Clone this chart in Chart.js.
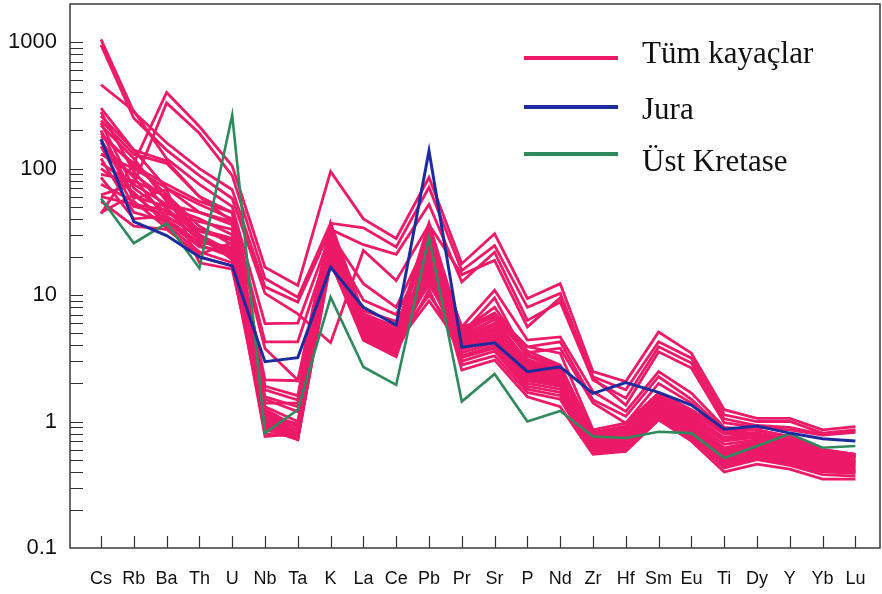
<!DOCTYPE html>
<html>
<head>
<meta charset="utf-8">
<script src="https://cdn.jsdelivr.net/npm/chart.js@4.4.1/dist/chart.umd.min.js"></script>
<style>
  html, body { margin: 0; padding: 0; background: #ffffff; }
  #wrap { width: 882px; height: 594px; position: relative; }
</style>
</head>
<body>
<div id="wrap"><canvas id="spider"></canvas></div>
<script>
// Element order along the x axis
const elements = ['Cs','Rb','Ba','Th','U','Nb','Ta','K','La','Ce','Pb','Pr','Sr','P','Nd','Zr','Hf','Sm','Eu','Ti','Dy','Y','Yb','Lu'];

// Decade labels on the logarithmic y axis
const yDecades = [0.1, 1, 10, 100, 1000];

// Series names
const seriesNames = ['Tüm kayaçlar', 'Jura', 'Üst Kretase'];

// Jura sample (normalised concentrations)
const jura = [171, 38, 29.5, 20, 17, 2.97, 3.2, 16.6, 8.0, 5.8, 138, 3.87, 4.19, 2.48, 2.71, 1.67, 2.03, 1.7, 1.35, 0.87, 0.92, 0.81, 0.73, 0.70];

// Upper Cretaceous sample
const ustKretase = [58, 25.7, 36.9, 16.3, 265, 0.81, 1.24, 9.6, 2.7, 1.95, 28.6, 1.44, 2.38, 1.0, 1.21, 0.76, 0.74, 0.83, 0.81, 0.515, 0.64, 0.80, 0.62, 0.64];

// All rock samples
const kayac01 = [44, 110, 400, 215, 105, 16.6, 11.9, 95, 40, 28, 85, 17.7, 30.5, 9.4, 12.3, 2.48, 2.07, 5.1, 3.47, 1.24, 1.06, 1.06, 0.86, 0.91];
const kayac02 = [62, 75, 330, 190, 88, 13.5, 9.6, 37, 34, 24, 71, 15.6, 24.6, 8.0, 10.3, 2.26, 1.78, 4.27, 3.17, 1.13, 1.0, 1.0, 0.81, 0.86];
const kayac03 = [1050, 280, 160, 100, 68, 11.6, 8.8, 33, 25, 21, 52, 12.7, 21.8, 6.3, 8.8, 2.13, 1.53, 3.9, 2.9, 1.05, 0.93, 0.9, 0.79, 0.84];
const kayac04 = [950, 250, 140, 88, 58, 10.3, 7.1, 4.2, 22.5, 13, 36, 14.5, 18.8, 5.6, 9.5, 2.2, 1.35, 3.56, 2.65, 0.98, 0.9, 0.86, 0.78, 0.82];
const kayac05 = [460, 285, 120, 75, 50, 5.95, 6.0, 30, 12.3, 8.0, 28.6, 5.6, 10.9, 4.4, 4.67, 1.72, 1.2, 2.48, 1.68, 0.9, 0.86, 0.76, 0.6, 0.55];
const kayac06 = [300, 140, 115, 60, 45, 4.27, 4.27, 26, 9.1, 7.0, 22.5, 5.0, 7.1, 3.9, 4.27, 1.48, 1.1, 2.26, 1.5, 0.86, 0.8, 0.72, 0.58, 0.53];
const kayac07 = [130, 100, 70, 45, 38, 3.78, 2.13, 22, 7.5, 6.2, 16.6, 4.6, 6.5, 3.5, 3.8, 1.4, 0.97, 2.0, 1.4, 0.8, 0.76, 0.7, 0.56, 0.52];
const kayac08 = [260, 140, 70, 52, 40, 2.13, 2.1, 37, 7.1, 5.6, 25, 5.6, 6.7, 3.9, 3.47, 0.86, 0.97, 1.68, 1.24, 0.86, 0.86, 0.76, 0.6, 0.55];
const kayac09 = [280, 95, 48, 30, 22, 1.78, 1.48, 32, 6.8, 5.3, 14, 5.3, 7.2, 3.6, 2.8, 0.8, 0.9, 1.6, 1.15, 0.8, 0.82, 0.72, 0.58, 0.54];
const kayac10 = [190, 105, 75, 55, 45, 1.9, 1.6, 35, 6.6, 5.2, 37, 5.2, 8.0, 3.4, 2.7, 0.82, 0.92, 1.6, 1.18, 0.82, 0.8, 0.7, 0.58, 0.55];
const kayac11 = [230, 70, 45, 33, 28, 1.57, 1.31, 30, 6.5, 5.0, 18, 5.0, 6.9, 3.3, 2.6, 0.78, 0.85, 1.55, 1.1, 0.75, 0.78, 0.7, 0.56, 0.52];
const kayac12 = [240, 130, 110, 60, 38, 1.5, 1.2, 27, 6.3, 4.9, 12, 4.9, 9.5, 3.1, 2.55, 0.76, 0.88, 1.52, 1.08, 0.72, 0.76, 0.68, 0.55, 0.52];
const kayac13 = [220, 120, 55, 28, 20, 1.4, 1.4, 28, 6.2, 4.8, 30, 4.8, 6.4, 3.0, 2.5, 0.75, 0.82, 1.5, 1.05, 0.7, 0.75, 0.66, 0.54, 0.5];
const kayac14 = [200, 60, 50, 40, 30, 1.31, 1.0, 27, 6.0, 4.6, 20, 4.6, 6.0, 2.9, 2.4, 0.72, 0.8, 1.45, 1.0, 0.66, 0.72, 0.64, 0.52, 0.49];
const kayac15 = [180, 110, 62, 35, 25, 1.25, 0.9, 26, 5.8, 4.5, 10, 4.4, 5.8, 2.8, 2.35, 0.7, 0.78, 1.42, 0.97, 0.62, 0.7, 0.62, 0.5, 0.48];
const kayac16 = [160, 85, 40, 26, 24, 1.2, 0.85, 36, 5.7, 4.4, 33, 4.3, 5.5, 2.7, 2.3, 0.69, 0.76, 1.4, 0.95, 0.6, 0.68, 0.6, 0.49, 0.47];
const kayac17 = [150, 50, 44, 38, 33, 1.16, 0.8, 24, 5.5, 4.3, 16, 4.2, 5.2, 2.6, 2.2, 0.68, 0.74, 1.36, 0.93, 0.58, 0.66, 0.58, 0.48, 0.46];
const kayac18 = [130, 90, 58, 30, 19, 1.1, 0.78, 23, 5.4, 4.2, 22, 4.0, 5.0, 2.5, 2.1, 0.66, 0.72, 1.33, 0.9, 0.56, 0.64, 0.57, 0.47, 0.45];
const kayac19 = [120, 45, 38, 24, 22, 1.05, 0.76, 22, 5.2, 4.1, 9, 3.9, 4.8, 2.4, 2.05, 0.65, 0.7, 1.3, 0.88, 0.54, 0.62, 0.55, 0.46, 0.44];
const kayac20 = [110, 75, 52, 45, 36, 1.0, 0.75, 33, 5.1, 4.0, 19, 3.8, 4.6, 2.3, 2.0, 0.63, 0.68, 1.27, 0.86, 0.52, 0.6, 0.54, 0.45, 0.43];
const kayac21 = [100, 65, 36, 22, 18, 0.97, 0.74, 20, 5.0, 3.9, 13, 3.7, 4.4, 2.2, 1.95, 0.62, 0.67, 1.25, 0.84, 0.5, 0.58, 0.52, 0.44, 0.42];
const kayac22 = [90, 80, 60, 32, 27, 0.93, 0.73, 29, 4.9, 3.8, 24, 3.5, 4.2, 2.1, 1.9, 0.6, 0.66, 1.2, 0.82, 0.48, 0.56, 0.5, 0.43, 0.41];
const kayac23 = [85, 40, 42, 29, 21, 0.9, 0.72, 19, 4.8, 3.7, 15, 3.3, 4.0, 2.0, 1.8, 0.6, 0.65, 1.18, 0.8, 0.47, 0.55, 0.49, 0.42, 0.4];
const kayac24 = [75, 55, 34, 20, 17, 0.88, 0.72, 25, 4.7, 3.6, 11, 3.2, 3.8, 1.9, 1.7, 0.58, 0.63, 1.15, 0.78, 0.46, 0.54, 0.48, 0.41, 0.4];
const kayac25 = [60, 52, 47, 27, 23, 0.86, 0.74, 18, 4.6, 3.5, 17, 3.0, 3.6, 1.8, 1.6, 0.57, 0.62, 1.12, 0.76, 0.45, 0.52, 0.46, 0.4, 0.39];
const kayac26 = [55, 35, 33, 21, 26, 0.8, 0.76, 21, 4.5, 3.4, 28, 2.8, 3.3, 1.7, 1.5, 0.56, 0.6, 1.08, 0.73, 0.43, 0.5, 0.45, 0.38, 0.37];
const kayac27 = [45, 62, 39, 25, 20, 0.76, 0.8, 18.5, 4.4, 3.25, 21, 2.55, 3.06, 1.57, 1.31, 0.55, 0.58, 1.03, 0.7, 0.4, 0.46, 0.42, 0.35, 0.35];
const kayac28 = [170, 58, 68, 18, 16, 1.16, 0.95, 31, 5.6, 4.3, 13.5, 4.1, 5.4, 2.6, 2.2, 0.68, 0.75, 1.38, 0.94, 0.6, 0.66, 0.58, 0.5, 0.48];

const tumKayaclar = [kayac01, kayac02, kayac03, kayac04, kayac05, kayac06, kayac07, kayac08, kayac09, kayac10,
  kayac11, kayac12, kayac13, kayac14, kayac15, kayac16, kayac17, kayac18, kayac19, kayac20,
  kayac21, kayac22, kayac23, kayac24, kayac25, kayac26, kayac27, kayac28];

const PINK = '#ec1a68';
const BLUE = '#1c2c9e';
const GREEN = '#2e8a5c';

const toPoints = vals => vals.map((v, i) => ({ x: i, y: v }));

const lineStyle = (label, color, width, vals) => ({
  label, data: toPoints(vals), borderColor: color, backgroundColor: color,
  borderWidth: width, pointRadius: 0, tension: 0, fill: false,
  borderJoinStyle: 'miter', borderCapStyle: 'butt'
});

// Highlighted samples first so they are painted above the rock bundle
const datasets = [
  lineStyle(seriesNames[1], BLUE, 3, jura),
  lineStyle(seriesNames[2], GREEN, 2.6, ustKretase),
  ...tumKayaclar.map(vals => lineStyle(seriesNames[0], PINK, 2.8, vals))
];

// Tick marks inside the plot frame plus the frame itself
const frameTicks = {
  id: 'frameTicks',
  beforeDatasetsDraw(chart) {
    const { ctx, chartArea: a, scales: { x, y } } = chart;
    ctx.save();
    ctx.strokeStyle = '#333';
    ctx.lineWidth = 1.2;
    ctx.beginPath();
    y.ticks.forEach(t => {
      if (t.value > 1000.0001 || t.value < 0.10001) return;
      const py = Math.round(y.getPixelForValue(t.value)) + 0.5;
      ctx.moveTo(a.left, py); ctx.lineTo(a.left + 13, py);
    });
    x.ticks.forEach(t => {
      const px = Math.round(x.getPixelForValue(t.value)) + 0.5;
      ctx.moveTo(px, a.bottom); ctx.lineTo(px, a.bottom - 12);
    });
    ctx.stroke();
    ctx.lineWidth = 1.5;
    ctx.strokeStyle = '#3a3a3a';
    ctx.strokeRect(a.left, a.top, a.right - a.left, a.bottom - a.top);
    ctx.restore();
  }
};

// Legend in the upper right of the plot
const legendEntries = [
  { text: seriesNames[0], color: PINK, lineY: 58, textY: 63 },
  { text: seriesNames[1], color: BLUE, lineY: 107, textY: 119 },
  { text: seriesNames[2], color: GREEN, lineY: 154, textY: 171 }
];
const cornerLegend = {
  id: 'cornerLegend',
  afterDraw(chart) {
    const ctx = chart.ctx;
    ctx.save();
    legendEntries.forEach(e => {
      ctx.strokeStyle = e.color;
      ctx.lineWidth = 4;
      ctx.beginPath();
      ctx.moveTo(524, e.lineY); ctx.lineTo(618, e.lineY);
      ctx.stroke();
      ctx.fillStyle = '#111';
      ctx.font = '31px "Liberation Serif", "Times New Roman", serif';
      ctx.textBaseline = 'alphabetic';
      ctx.textAlign = 'left';
      ctx.fillText(e.text, 642, e.textY);
    });
    ctx.restore();
  }
};

const isDecade = v => Math.abs(Math.log10(v) - Math.round(Math.log10(v))) < 1e-9;

new Chart(document.getElementById('spider'), {
  type: 'line',
  data: { datasets },
  options: {
    responsive: true,
    maintainAspectRatio: false,
    animation: false,
    events: [],
    layout: { padding: { left: 0, top: 4, right: 2, bottom: 0 } },
    plugins: { legend: { display: false }, tooltip: { enabled: false } },
    scales: {
      x: {
        type: 'linear',
        min: -0.945,
        max: 23.75,
        grid: { display: false, drawTicks: false },
        border: { display: false },
        afterBuildTicks(scale) { scale.ticks = elements.map((_, i) => ({ value: i })); },
        afterFit(scale) {
          scale.height = 46;
          scale.paddingLeft = 0; scale.paddingRight = 0;
        },
        ticks: {
          autoSkip: false, maxRotation: 0, minRotation: 0, padding: 20,
          color: '#111',
          font: { family: '"Liberation Sans", Arial, sans-serif', size: 18 },
          callback: v => elements[v] ?? ''
        }
      },
      y: {
        type: 'logarithmic',
        min: 0.1,
        max: 2000,
        grid: { display: false, drawTicks: false },
        border: { display: false },
        afterBuildTicks(scale) {
          const t = [];
          for (let e = -1; e < 3; e++) {
            for (let m = 1; m <= 9; m++) t.push({ value: m * Math.pow(10, e) });
          }
          t.push({ value: 1000 });
          scale.ticks = t;
        },
        afterFit(scale) {
          scale.width = 70;
          scale.paddingTop = 0; scale.paddingBottom = 0;
        },
        ticks: {
          autoSkip: false, padding: 13,
          color: '#111',
          font: { family: '"Liberation Sans", Arial, sans-serif', size: 22 },
          callback: v => (isDecade(v) && yDecades.some(d => Math.abs(d - v) < 1e-9)) ? String(v) : ''
        }
      }
    }
  },
  plugins: [frameTicks, cornerLegend]
});
</script>
</body>
</html>
